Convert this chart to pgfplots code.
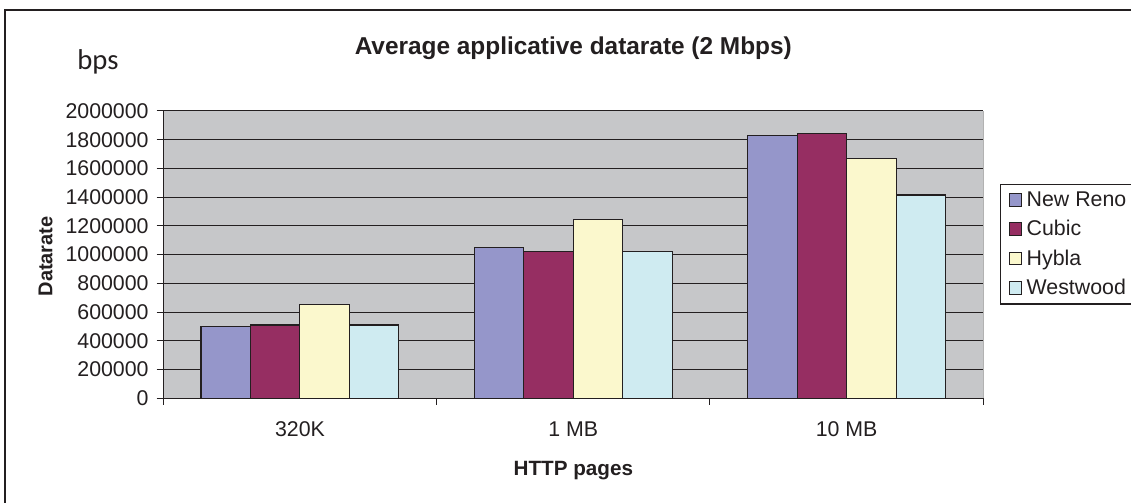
\documentclass[border=0pt]{standalone}
\usepackage{fontspec}
\setmainfont{Liberation Sans}
\newfontfamily\carlito{Carlito}
\usepackage{pgfplots}
\pgfplotsset{compat=1.18}

\definecolor{plotgray}{RGB}{198,199,201}
\definecolor{inkline}{RGB}{35,31,32}
\definecolor{newreno}{RGB}{149,150,202}
\definecolor{cubic}{RGB}{150,46,98}
\definecolor{hybla}{RGB}{251,248,205}
\definecolor{westwood}{RGB}{207,235,241}

\begin{document}
\begin{tikzpicture}
\begin{axis}[
    scale only axis,
    width=615pt, height=215.5pt,
    ybar=0pt, bar width=0.181,
    xmin=-0.5, xmax=2.5,
    ymin=0, ymax=2000000,
    ytick={0,200000,...,2000000},
    scaled y ticks=false,
    yticklabel style={/pgf/number format/fixed, /pgf/number format/1000 sep={}, xshift=-2.5pt},
    /pgf/number format/assume math mode=true,
    xtick={-0.5,0.5,1.5,2.5},
    xticklabels={},
    extra x ticks={0,1,2},
    extra x tick labels={320K,1 MB,10 MB},
    extra x tick style={major tick length=0pt, xticklabel style={yshift=-14pt}},
    tick align=outside,
    major tick length=5pt,
    tick style={inkline, line width=0.75pt},
    tick label style={font=\fontsize{16}{19}\selectfont, text=inkline},
    axis x line*=bottom, axis y line*=left,
    axis line style={-, inkline, line width=0.9pt},
    ymajorgrids,
    grid style={inkline, line width=0.8pt},
    axis background/.style={fill=plotgray},
    title={Average applicative datarate (2 Mbps)},
    title style={at={(axis description cs:0.50,1.19)}, anchor=center,
        font=\bfseries\fontsize{18.3}{22}\selectfont, text=inkline},
    xlabel={HTTP pages},
    xlabel style={at={(axis description cs:0.5,-0.25)}, anchor=center,
        font=\bfseries\fontsize{15.5}{18}\selectfont, text=inkline},
    ylabel={Datarate},
    ylabel style={at={(axis description cs:-0.1435,0.494)}, anchor=center, rotate=0,
        font=\bfseries\fontsize{15}{18}\selectfont, text=inkline},
    every axis plot/.append style={draw=inkline, line width=0.8pt},
    legend style={at={(rel axis cs:1.0204,0.7467)}, anchor=north west,
        draw=inkline, line width=0.8pt, fill=white,
        font=\fontsize{16}{19}\selectfont, text=inkline,
        row sep=9pt, inner xsep=6pt, inner ysep=5.5pt,
        nodes={inner xsep=3.5pt, inner ysep=0pt}},
    legend cell align=left,
    legend image code/.code={\draw[#1, line width=0.6pt] (0pt,-4.7pt) rectangle (9.5pt,4.7pt);},
    extra description/.code={\draw[gray!60, line width=0.9pt] (rel axis cs:1,0) -- (rel axis cs:1,1);},
]
\addplot[fill=newreno] coordinates {(0,500000) (1,1048000) (2,1828000)};
\addplot[fill=cubic] coordinates {(0,510000) (1,1025000) (2,1840000)};
\addplot[fill=hybla] coordinates {(0,652000) (1,1246000) (2,1668000)};
\addplot[fill=westwood] coordinates {(0,510000) (1,1025000) (2,1415000)};
\legend{New Reno, Cubic, Hybla, Westwood}
\end{axis}
\begin{scope}[x=0.75pt, y=-0.75pt, shift={(-163.3,-398.3)}]
    \draw[inkline, line width=1.5pt] (5,503) -- (5,10) -- (1131,10);
    \node[text=inkline] at (98,62) {\carlito\fontsize{21.5}{24}\selectfont bps};
    \pgfresetboundingbox
    \path (0,0) rectangle (1131,503);
\end{scope}
\end{tikzpicture}
\end{document}
